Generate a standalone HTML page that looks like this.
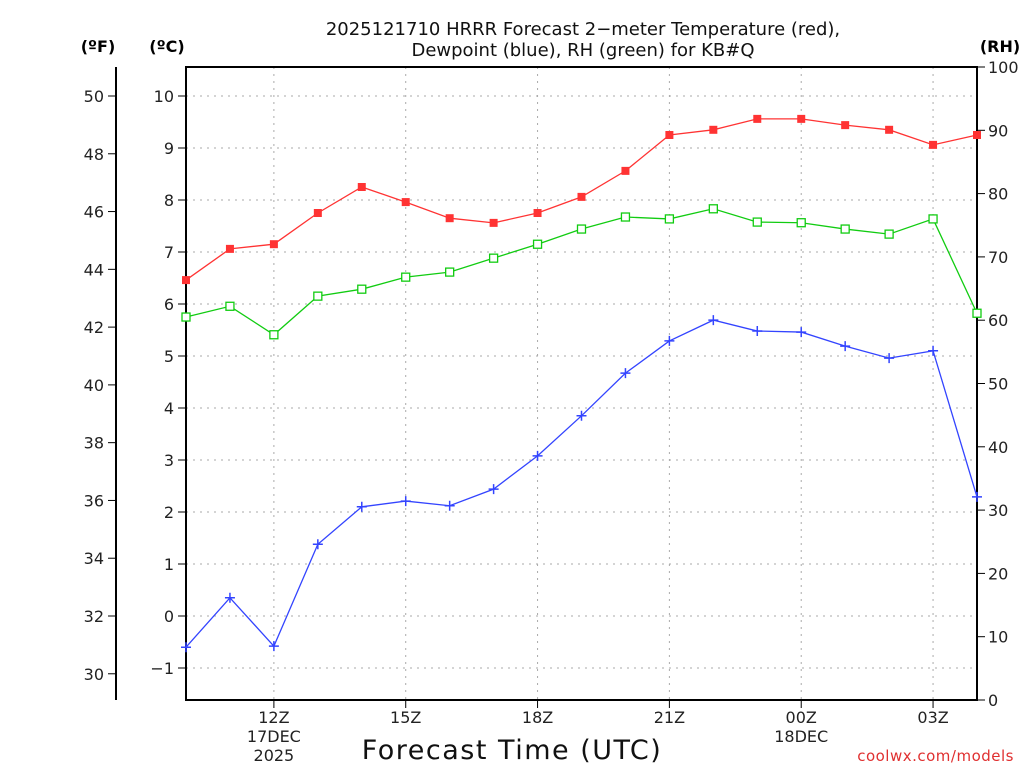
<!DOCTYPE html>
<html><head><meta charset="utf-8"><style>
body{margin:0;background:#fff;width:1024px;height:768px;overflow:hidden}
svg text{font-family:"DejaVu Sans","Liberation Sans",sans-serif}
</style></head><body>
<svg id="chart" width="1024" height="768" xmlns="http://www.w3.org/2000/svg"></svg>
<script>
const hours = [10,11,12,13,14,15,16,17,18,19,20,21,22,23,24,25,26,27,28];
const tempC = [6.46,7.06,7.15,7.75,8.25,7.96,7.65,7.56,7.75,8.06,8.56,9.25,9.35,9.56,9.56,9.44,9.35,9.06,9.25];
const dewC = [-0.6,0.35,-0.58,1.38,2.1,2.21,2.12,2.44,3.08,3.85,4.67,5.29,5.69,5.48,5.46,5.19,4.96,5.1,2.29];
const rh = [60.5,62.2,57.7,63.8,64.9,66.8,67.6,69.8,72.0,74.4,76.3,76.0,77.6,75.5,75.4,74.4,73.6,76.0,61.1];
const cTicks = [-1,0,1,2,3,4,5,6,7,8,9,10];
const fTicks = [30,32,34,36,38,40,42,44,46,48,50];
const rhTicks = [0,10,20,30,40,50,60,70,80,90,100];
const xTickHours = [12,15,18,21,24,27];
const xTickLabels = ["12Z","15Z","18Z","21Z","00Z","03Z"];

const L=186,R=977,T=67,B=700;
const x = h => L + (h-10)*(R-L)/18;
const yC = c => 616 - c*52;
const yF = f => yC((f-32)*5/9);
const yRH = v => B - v*(B-T)/100;
const svg=document.getElementById('chart');
const NS='http://www.w3.org/2000/svg';
function el(tag,attrs,parent){const e=document.createElementNS(NS,tag);for(const k in attrs)e.setAttribute(k,attrs[k]);(parent||svg).appendChild(e);return e;}
function txt(s,attrs,parent){const e=el('text',attrs,parent);e.textContent=s;return e;}

const grid=el('g',{});


cTicks.forEach(c=>el('line',{x1:L,x2:R,y1:yC(c),y2:yC(c),stroke:'#aaa','stroke-dasharray':'2,5'},grid));
xTickHours.forEach(h=>el('line',{x1:x(h),x2:x(h),y1:T,y2:B,stroke:'#aaa','stroke-dasharray':'2,5'},grid));

const frame=el('rect',{x:L,y:T,width:R-L,height:B-T,fill:'none',stroke:'#000','stroke-width':2});



const cax=el('g',{});


cTicks.forEach(c=>{el('line',{x1:L-8,x2:L,y1:yC(c),y2:yC(c),stroke:'#000'},cax);
 txt(c<0?'\u22121':String(c),{x:L-12,y:yC(c)+6,'text-anchor':'end','font-size':16,fill:'#222'},cax);});
const fax=el('g',{});


el('line',{x1:116,x2:116,y1:T,y2:B,stroke:'#000','stroke-width':2},fax);
fTicks.forEach(f=>{el('line',{x1:108,x2:116,y1:yF(f),y2:yF(f),stroke:'#000'},fax);
 txt(String(f),{x:104,y:yF(f)+6,'text-anchor':'end','font-size':16,fill:'#222'},fax);});
const rax=el('g',{});


rhTicks.forEach(v=>{el('line',{x1:R,x2:R+8,y1:yRH(v),y2:yRH(v),stroke:'#000'},rax);
 txt(String(v),{x:R+11,y:yRH(v)+6,'font-size':16,fill:'#222'},rax);});
const xax=el('g',{});


xTickHours.forEach((h,i)=>{el('line',{x1:x(h),x2:x(h),y1:B,y2:B+8,stroke:'#000'},xax);
 txt(xTickLabels[i],{x:x(h),y:723,'text-anchor':'middle','font-size':16,fill:'#222'},xax);});
txt('17DEC',{x:x(12),y:742,'text-anchor':'middle','font-size':16,fill:'#222'},xax);
txt('2025',{x:x(12),y:761,'text-anchor':'middle','font-size':16,fill:'#222'},xax);
txt('18DEC',{x:x(24),y:742,'text-anchor':'middle','font-size':16,fill:'#222'},xax);

function series(vals,yf,color,name,marker){
 const g=el('g',{});
 
 
 el('polyline',{points:vals.map((v,i)=>x(hours[i])+','+yf(v)).join(' '),fill:'none',stroke:color,'stroke-width':1.3},g);
 vals.forEach((v,i)=>{const px=x(hours[i]),py=yf(v);let m;
  if(marker==='fill')m=el('rect',{x:px-4,y:py-4,width:8,height:8,fill:color},g);
  else if(marker==='open')m=el('rect',{x:px-4,y:py-4,width:8,height:8,fill:'#fff',stroke:color,'stroke-width':1.3},g);
  else m=el('path',{d:`M${px-5},${py}H${px+5}M${px},${py-5}V${py+5}`,stroke:color,'stroke-width':1.5},g);
  
  });
}
series(rh,yRH,'#11cc11','rh-series','open');
series(dewC,yC,'#3344ff','dewpoint-series','plus');
series(tempC,yC,'#ff3333','temperature-series','fill');

const t1=txt('2025121710 HRRR Forecast 2\u2212meter Temperature (red),',{x:583,y:35,'text-anchor':'middle','font-size':18,fill:'#111'});

const t2=txt('Dewpoint (blue), RH (green) for KB#Q',{x:583,y:56,'text-anchor':'middle','font-size':18,fill:'#111'});

const u1=txt('(\u00baF)',{x:98,y:52,'text-anchor':'middle','font-size':16,'font-weight':'bold'});

const u2=txt('(\u00baC)',{x:167,y:52,'text-anchor':'middle','font-size':16,'font-weight':'bold'});

const u3=txt('(RH)',{x:1000,y:52,'text-anchor':'middle','font-size':16,'font-weight':'bold'});

const xt=txt('Forecast Time (UTC)',{x:512,y:759,'text-anchor':'middle','font-size':27,'letter-spacing':'1.5',fill:'#111'});

const cr=txt('coolwx.com/models',{x:1014,y:761,'text-anchor':'end','font-size':15,'letter-spacing':'0.5',fill:'#e03030'});

</script>
</body></html>
